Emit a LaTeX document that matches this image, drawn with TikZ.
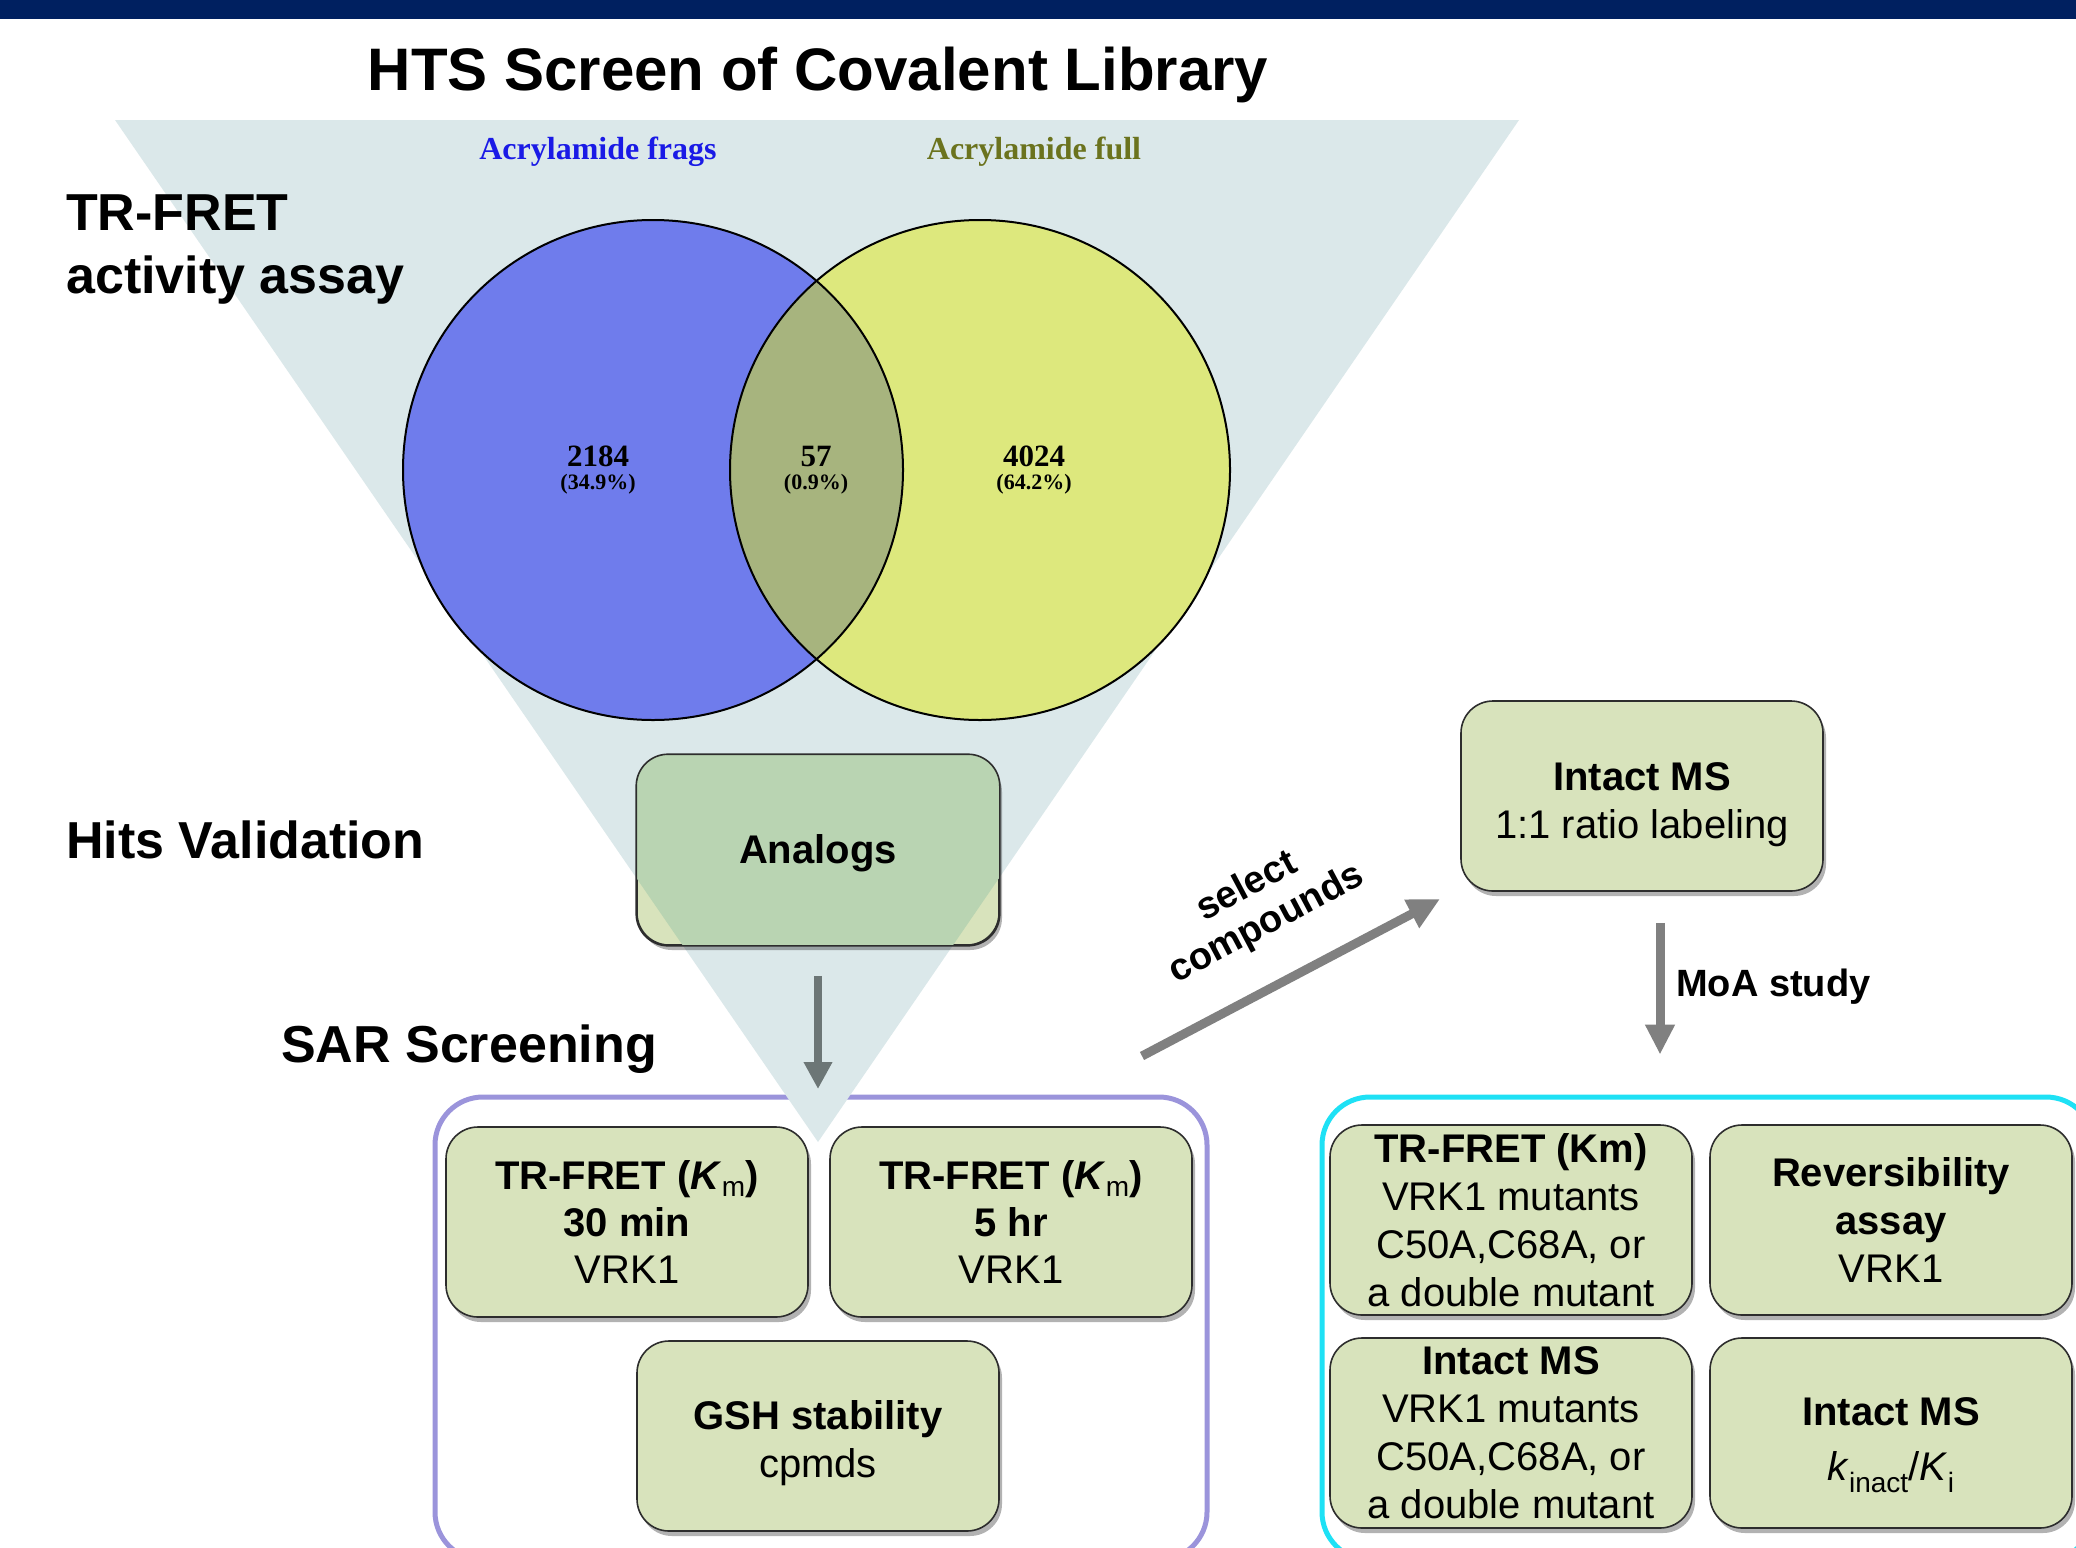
\documentclass[tikz,border=0pt]{standalone}
\usepackage{fontspec}
\setmainfont{Liberation Sans}
\newfontfamily\serifb{Liberation Serif}
\usetikzlibrary{arrows.meta,shadows,calc}

\definecolor{navy}{RGB}{0,32,96}
\definecolor{funnel}{RGB}{219,232,234}
\definecolor{boxfill}{RGB}{216,227,188}
\definecolor{boxtint}{RGB}{185,212,178}
\definecolor{vblue}{RGB}{111,124,236}
\definecolor{vyellow}{RGB}{221,232,125}
\definecolor{vmix}{RGB}{167,180,126}
\definecolor{fragblue}{RGB}{26,26,230}
\definecolor{fullolive}{RGB}{107,115,30}
\definecolor{sarpurple}{RGB}{155,148,219}
\definecolor{moacyan}{RGB}{30,225,245}
\definecolor{arrowgray}{RGB}{128,128,128}
\definecolor{arrowdark}{RGB}{108,118,118}
\definecolor{boxline}{RGB}{45,45,45}

\tikzset{
  cbox/.style={draw=boxline, line width=1.6pt, fill=boxfill, rounded corners=32pt,
    minimum width=362pt, minimum height=190pt, align=center, inner sep=0pt,
    font=\fontsize{40}{48}\selectfont,
    drop shadow={shadow xshift=3pt, shadow yshift=-5pt, opacity=0.3, fill=black}},
  groupbox/.style={line width=5pt, rounded corners=48pt, inner sep=0pt,
    minimum width=772pt, minimum height=463pt},
  bigarrow/.style={line width=9pt, draw=arrowgray, -{Triangle[length=32pt,width=30pt]}},
  sidelabel/.style={font=\fontsize{52}{63}\selectfont\bfseries, anchor=west, align=left, inner sep=0pt},
  vlabel/.style={font=\serifb\bfseries\fontsize{32}{32}\selectfont, inner sep=0pt},
  vnum/.style={font=\serifb\bfseries\fontsize{31}{31}\selectfont, inner sep=0pt},
  vpct/.style={font=\serifb\bfseries\fontsize{22}{22}\selectfont, inner sep=0pt},
}

\begin{document}
\begin{tikzpicture}[x=1pt,y=-1pt]
\useasboundingbox (0,0) rectangle (2076,1547);
\fill[white] (0,0) rectangle (2076,1547);
\fill[navy] (0,0) rectangle (2076,19);

% funnel corners
\coordinate (ftl) at (115,120);
\coordinate (ftr) at (1519,120);
\coordinate (fap) at (818,1142);

% group frames
\node[groupbox, draw=sarpurple] (sar) at (821,1328.5) {};
\node[groupbox, draw=moacyan] (moa) at (1708,1328.5) {};

% funnel
\fill[funnel] (ftl) -- (ftr) -- (fap) -- cycle;

% title and side labels
\node[font=\fontsize{60}{72}\selectfont\bfseries, inner sep=0pt] (title) at (818,75) {HTS Screen of Covalent Library};
\node[sidelabel] (trlab) at (66,250) {TR-FRET\\activity assay};
\node[sidelabel] (hitslab) at (66,840) {Hits Validation};
\node[sidelabel] (sarlab) at (281,1049) {SAR Screening};

% Venn
\fill[vblue] (653,470) circle[radius=250];
\fill[vyellow] (980,470) circle[radius=250];
\begin{scope}
  \clip (653,470) circle[radius=250];
  \fill[vmix] (980,470) circle[radius=250];
\end{scope}
\draw[line width=2pt] (653,470) circle[radius=250];
\draw[line width=2pt] (980,470) circle[radius=250];

\node[vlabel, text=fragblue] (lfrag) at (598,152) {Acrylamide frags};
\node[vlabel, text=fullolive] (lfull) at (1034,152) {Acrylamide full};
\node[vnum] (n1) at (598,456) {2184};
\node[vpct] (p1) at (598,484) {(34.9\%)};
\node[vnum] (n2) at (816,456) {57};
\node[vpct] (p2) at (816,484) {(0.9\%)};
\node[vnum] (n3) at (1034,456) {4024};
\node[vpct] (p3) at (1034,484) {(64.2\%)};

% Analogs box (partly under the funnel)
\node[cbox] (analogs) at (818,850) {};
\begin{scope}
  \clip (ftl) -- (ftr) -- (fap) -- cycle;
  \fill[boxtint, rounded corners=32pt] (analogs.south west) rectangle (analogs.north east);
\end{scope}
\draw[draw=boxline, line width=1.6pt, rounded corners=32pt] (analogs.south west) rectangle (analogs.north east);
\node[font=\fontsize{40}{48}\selectfont\bfseries] (analogstxt) at ([yshift=-3pt]analogs.center) {Analogs};

% arrow into SAR group
\coordinate (sartop) at (818,1089);
\draw[line width=8pt, draw=arrowdark, -{Triangle[length=27pt,width=27pt]}]
  ([yshift=-30pt]analogs.south) -- (sartop);

% Intact MS top box
\node[cbox] (intact) at (1642,796) {\rule{0pt}{46pt}\textbf{Intact MS}\\1:1 ratio labeling};

% select compounds arrow
\coordinate (selS) at (1142,1056);
\coordinate (selE) at (1440,899);
\draw[bigarrow] (selS) -- (selE);
\node[rotate=28, font=\fontsize{38}{42}\selectfont\bfseries, align=center, inner sep=0pt] (seltxt) at (1257,906) {select\\compounds};

% MoA arrow
\draw[bigarrow, line width=9pt, -{Triangle[length=30pt,width=28pt]}]
  ([xshift=18pt,yshift=-31pt]intact.south) -- ([xshift=-48pt,yshift=40pt]moa.north);
\node[font=\fontsize{38}{46}\selectfont\bfseries, anchor=west, inner sep=0pt] (moalab) at (1676,987) {MoA study};

% SAR boxes
\node[cbox, font=\fontsize{40}{47}\selectfont] (s1) at (627,1222)
  {\textbf{TR-FRET (\textit{K}\textsubscript{\mdseries m})}\\\textbf{30 min}\\VRK1};
\node[cbox, font=\fontsize{40}{47}\selectfont] (s2) at (1011,1222)
  {\textbf{TR-FRET (\textit{K}\textsubscript{\mdseries m})}\\\textbf{5 hr}\\VRK1};
\node[cbox] (s3) at (818,1436) {\rule{0pt}{44pt}\textbf{GSH stability}\\cpmds};

% MoA boxes
\node[cbox] (m1) at (1511,1220)
  {\textbf{TR-FRET (Km)}\\VRK1 mutants\\C50A,C68A, or\\a double mutant};
\node[cbox] (m2) at (1891,1220) {\textbf{Reversibility}\\\textbf{assay}\\VRK1};
\node[cbox] (m3) at (1511,1433)
  {\textbf{Intact MS}\\VRK1 mutants\\C50A,C68A, or\\a double mutant};
\node[cbox, font=\fontsize{40}{55}\selectfont] (m4) at (1891,1433)
  {\rule{0pt}{52pt}\textbf{Intact MS}\\\textit{k}\textsubscript{inact}/\textit{K}\textsubscript{i}};
\end{tikzpicture}
\end{document}
